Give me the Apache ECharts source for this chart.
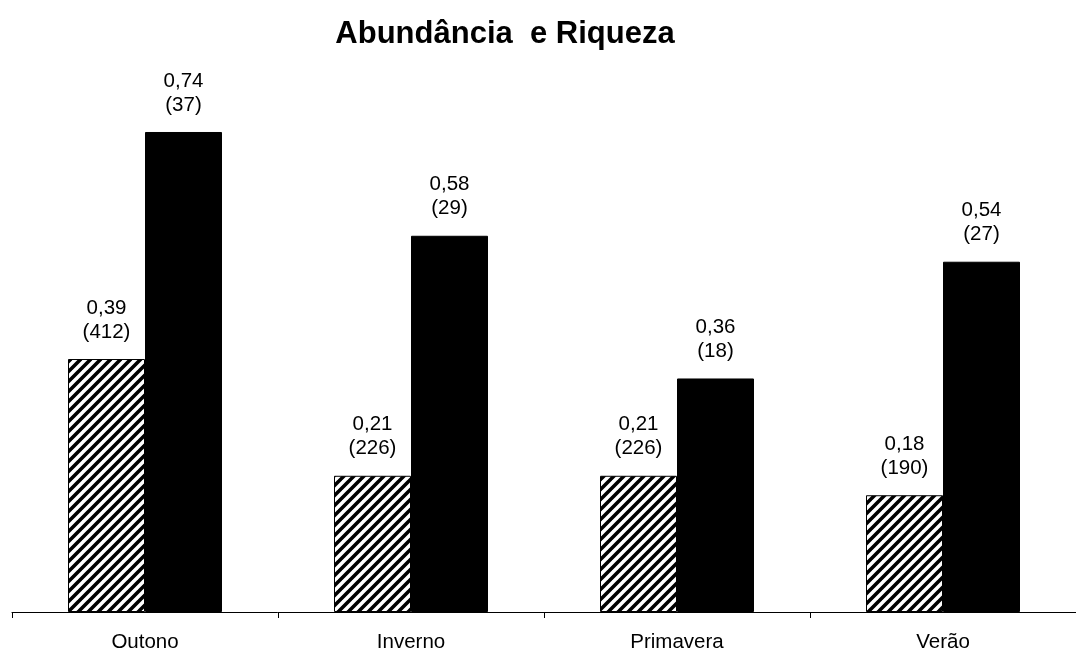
<!DOCTYPE html>
<html>
<head>
<meta charset="utf-8">
<script src="https://cdn.jsdelivr.net/npm/echarts@6/dist/echarts.min.js"></script>
<style>
  html, body { margin: 0; padding: 0; background: #fff; }
  #chart { width: 1076px; height: 653px; }
</style>
</head>
<body>
<div id="chart"></div>
<script>
// Seasons and the two measured series (proportion, with counts in brackets)
const categories = ['Outono', 'Inverno', 'Primavera', 'Verão'];
const abundancia = [0.39, 0.21, 0.21, 0.18];
const abundanciaN = [412, 226, 226, 190];
const riqueza = [0.74, 0.58, 0.36, 0.54];
const riquezaN = [37, 29, 18, 27];

// Diagonal hatch fill for the first series
function hatchPattern() {
  const size = 10;
  const c = document.createElement('canvas');
  c.width = size; c.height = size;
  const ctx = c.getContext('2d');
  ctx.fillStyle = '#fff';
  ctx.fillRect(0, 0, size, size);
  ctx.strokeStyle = '#000';
  ctx.lineWidth = 3.6;
  ctx.beginPath();
  for (let k = -1; k <= 1; k++) {
    ctx.moveTo(k * size - 1, size + 1);
    ctx.lineTo(k * size + size + 1, -1);
  }
  ctx.stroke();
  return c;
}

function fmt(v) { return v.toFixed(2).replace('.', ','); }

const FONT = '"Liberation Sans", Arial, sans-serif';

const labelStyle = {
  show: true,
  position: 'top',
  distance: 15,
  color: '#000',
  fontFamily: FONT,
  fontSize: 20.5,
  lineHeight: 24,
  align: 'center'
};

const chart = echarts.init(document.getElementById('chart'));
chart.setOption({
  animation: false,
  backgroundColor: '#fff',
  title: {
    text: 'Abundância  e Riqueza',
    left: 500,
    textAlign: 'center',
    top: 14,
    textStyle: {
      fontFamily: FONT,
      fontWeight: 'bold',
      fontSize: 31,
      color: '#000'
    }
  },
  grid: { left: 12, right: -4, top: 28.2, bottom: 41, containLabel: false },
  xAxis: {
    type: 'category',
    data: categories,
    axisLine: { lineStyle: { color: '#000', width: 1 } },
    axisTick: { show: true, length: 6, lineStyle: { color: '#000' } },
    axisLabel: {
      color: '#000',
      fontFamily: FONT,
      fontSize: 20.5,
      margin: 20
    }
  },
  yAxis: {
    type: 'value',
    min: 0,
    max: 0.9,
    show: false,
    splitLine: { show: false }
  },
  series: [
    {
      name: 'Abundância',
      type: 'bar',
      data: abundancia,
      barWidth: 77,
      barGap: '0%',
      itemStyle: {
        color: { image: hatchPattern(), repeat: 'repeat' },
        borderColor: '#000',
        borderWidth: 1
      },
      label: Object.assign({}, labelStyle, {
        formatter: p => fmt(abundancia[p.dataIndex]) + '\n(' + abundanciaN[p.dataIndex] + ')'
      })
    },
    {
      name: 'Riqueza',
      type: 'bar',
      data: riqueza,
      barWidth: 77,
      itemStyle: { color: '#000', borderColor: '#000', borderWidth: 1 },
      label: Object.assign({}, labelStyle, {
        formatter: p => fmt(riqueza[p.dataIndex]) + '\n(' + riquezaN[p.dataIndex] + ')'
      })
    }
  ]
});
</script>
</body>
</html>
